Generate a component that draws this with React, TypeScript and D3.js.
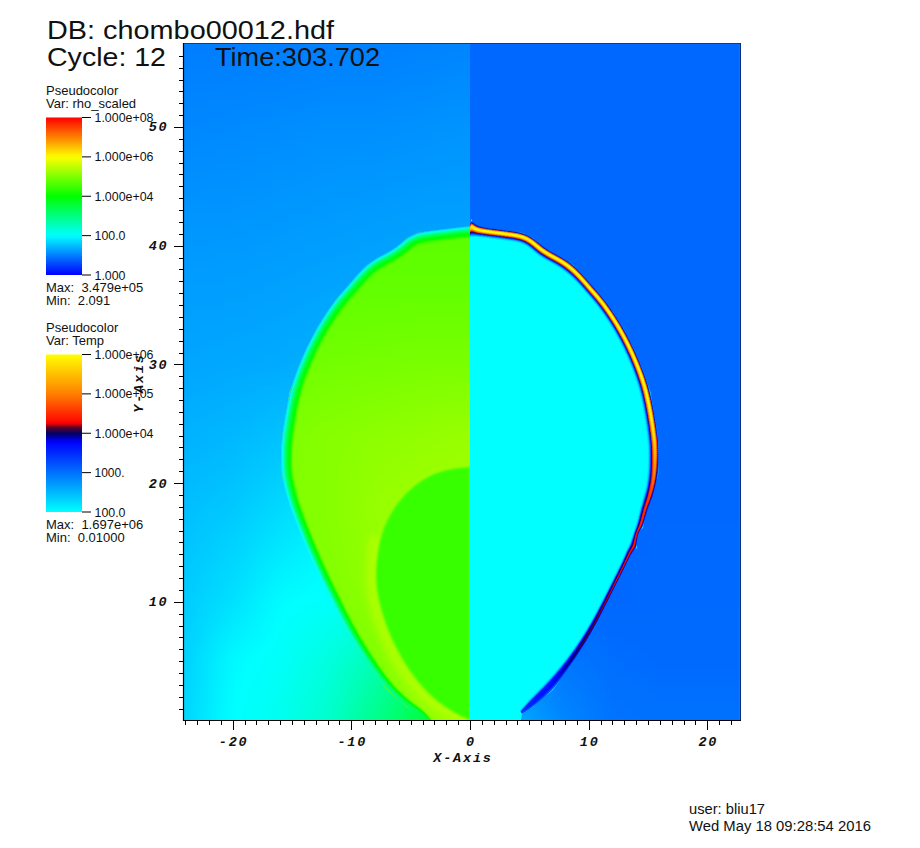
import React from 'react';
import * as d3 from 'd3';

// ---------- text ----------
const dbTitle = 'DB: chombo00012.hdf';
const cycleLabel = 'Cycle: 12';
const timeLabel = 'Time:303.702';
const rhoLegendLines = ['Pseudocolor', 'Var: rho_scaled'];
const rhoTickLabels = ['1.000e+08', '1.000e+06', '1.000e+04', '100.0', '1.000'];
const rhoStats = ['Max:  3.479e+05', 'Min:  2.091'];
const tempLegendLines = ['Pseudocolor', 'Var: Temp'];
const tempTickLabels = ['1.000e+06', '1.000e+05', '1.000e+04', '1000.', '100.0'];
const tempStats = ['Max:  1.697e+06', 'Min:  0.01000'];
const footerLines = ['user: bliu17', 'Wed May 18 09:28:54 2016'];

// ---------- colour tables (log10 value -> colour) ----------
const rhoLogStops = [0, 2, 4, 6, 8];
const rhoColors = ['#0000ff', '#00ffff', '#00ff00', '#ffff00', '#ff0000'];
const tempLogStops = [2, 3.79, 4.0, 4.17, 4.25, 5, 6];
const tempColors = ['#00ffff', '#0000ff', '#000060', '#700020', '#ff0000', '#ff8000', '#ffff00'];

// ---------- ambient gas density, left half (log10 rho) ----------
const gasX = [-24, -20, -16, -12, -8, -4, 0];
const gasY = [57, 50, 40, 30, 20, 15, 10, 5, 0];
const gasLog = [
  [0.98, 0.98, 0.98, 1.0, 1.0, 1.02, 1.04],
  [1.06, 1.08, 1.1, 1.12, 1.12, 1.14, 1.16],
  [1.2, 1.2, 1.22, 1.24, 1.26, 1.28, 1.28],
  [1.3, 1.32, 1.34, 1.38, 1.4, 1.42, 1.42],
  [1.46, 1.52, 1.64, 1.74, 1.75, 1.75, 1.75],
  [1.54, 1.64, 1.8, 1.94, 2.0, 2.0, 2.0],
  [1.6, 1.76, 1.98, 2.03, 2.1, 2.2, 2.3],
  [1.64, 1.96, 2.05, 2.25, 2.6, 3.0, 3.2],
  [1.68, 2.0, 2.12, 2.4, 2.9, 3.5, 3.8],
];

// ---------- ambient temperature, right half (log10 T) ----------
const airX = [0, 4, 8, 12, 16, 20, 24];
const airY = [57, 30, 10, 5, 0];
const airLog = [
  [3.07, 3.07, 3.07, 3.07, 3.07, 3.07, 3.07],
  [3.07, 3.07, 3.07, 3.07, 3.07, 3.07, 3.07],
  [3.06, 3.06, 3.06, 3.06, 3.05, 3.05, 3.05],
  [2.9, 2.92, 2.96, 3.02, 3.04, 3.04, 3.04],
  [2.55, 2.6, 2.85, 2.98, 3.0, 3.0, 3.0],
];

// ---------- density inside the bubble, left half (log10 rho) ----------
const bubbleX = [-16, -12, -8, -4, 0];
const bubbleY = [42, 36, 30, 24, 18, 12, 6, 0];
const bubbleLog = [
  [4.7, 4.7, 4.7, 4.7, 4.7],
  [4.72, 4.75, 4.78, 4.78, 4.78],
  [4.85, 4.9, 4.92, 4.95, 4.95],
  [4.98, 5.05, 5.1, 5.15, 5.2],
  [5.0, 5.05, 5.18, 5.25, 5.25],
  [5.0, 5.02, 5.12, 5.3, 5.3],
  [5.0, 5.0, 5.02, 5.2, 5.25],
  [5.0, 5.0, 5.0, 5.1, 5.25],
];

// ---------- inner low-density lobe ----------
const lobeX = [0, -2.53, -4.55, -6.23, -7.58, -8.0, -7.75, -6.74, -5.05, -2.86, 0];
const lobeY = [21.36, 21.1, 20.0, 18.3, 15.8, 12.43, 10.15, 7.03, 4.0, 1.47, 0];

// ---------- shell: outer edge, inner edge and peak log10 T, matched point by point ----------
const shellX = [0.0, 0.1, 0.42, 1.94, 3.37, 4.47, 5.31, 6.15, 6.99, 7.83, 8.68, 9.52, 10.36, 11.2, 12.05, 12.89, 13.73, 14.49, 15.2, 15.75, 15.92, 15.85, 15.55, 15.33, 14.91, 14.57, 14.07, 14.07, 13.65, 13.23, 12.38, 11.54, 10.53, 9.52, 8.42, 6.99, 5.31, 4.38];
const shellY = [41.3, 42.3, 41.62, 41.41, 41.24, 41.07, 40.65, 39.89, 39.38, 38.96, 38.37, 37.53, 36.52, 35.6, 34.41, 33.07, 31.47, 29.7, 27.67, 24.47, 22.8, 20.7, 19.42, 18.58, 17.73, 16.22, 15.8, 14.53, 14.2, 13.27, 11.58, 9.9, 7.88, 6.19, 4.51, 2.57, 1.14, 0.63];
const shellInnerX = [0, 0.1, 0.42, 1.9, 3.3, 4.35, 5.0, 5.7, 6.5, 7.4, 8.1, 9.0, 9.8, 10.6, 11.4, 12.25, 13.0, 13.75, 14.4, 14.9, 15.05, 15.0, 14.8, 14.6, 14.35, 14.0, 13.8, 13.45, 13.2, 12.83, 11.98, 11.14, 10.1, 9.07, 7.9, 6.4, 4.9, 4.25];
const shellInnerY = [40.75, 40.75, 40.78, 40.6, 40.42, 40.25, 39.85, 39.2, 38.72, 38.25, 37.75, 36.95, 36.0, 35.1, 34.0, 32.65, 31.2, 29.45, 27.45, 24.4, 22.8, 20.7, 19.5, 18.8, 17.95, 16.4, 15.9, 14.8, 14.4, 13.47, 11.78, 10.1, 8.14, 6.5, 4.9, 3.17, 1.7, 0.85];
const shellPeak = [5.6, 5.8, 6, 6, 6, 6, 6, 6, 6, 6, 6, 6, 6, 6, 6, 6, 6, 6, 6, 5.9, 5.5, 5.0, 4.7, 4.6, 4.5, 4.5, 4.4, 4.4, 4.35, 4.3, 4.25, 4.2, 4.15, 4.1, 3.95, 3.75, 3.65, 3.4];

// ---------- bubble edge on the density side ----------
const cavityX = [0, 0.42, 1.94, 3.37, 4.47, 5.31, 6.15, 6.99, 7.83, 8.68, 9.52, 10.36, 11.2, 12.05, 12.89, 13.73, 14.49, 15.2, 15.75, 15.92, 15.85, 15.55, 15.2, 14.6, 13.9, 13.2, 12.38, 11.54, 10.53, 9.52, 8.42, 6.99, 5.31, 4.38, 3.7, 3.1];
const cavityY = [41.62, 41.6, 41.41, 41.24, 41.07, 40.65, 39.89, 39.38, 38.96, 38.37, 37.53, 36.52, 35.6, 34.41, 33.07, 31.47, 29.7, 27.67, 24.47, 22.8, 20.7, 19.42, 18.2, 16.6, 14.9, 13.3, 11.58, 9.9, 7.88, 6.19, 4.51, 2.57, 1.14, 0.63, 0.1, -0.6];
const cavityEdge = [1, 1, 1, 1, 1, 1, 1, 1, 1, 1, 1, 1, 1, 1, 1, 1, 1, 1, 1, 1, 0.95, 0.95, 0.9, 0.9, 0.85, 0.85, 0.8, 0.8, 0.8, 0.75, 0.75, 0.7, 0.6, 0.5, 0.4, 0.3];

// ---------- axis ticks ----------
const xMajorTicks = [-20, -10, 0, 10, 20];
const yMajorTicks = [10, 20, 30, 40, 50];
const xMinorTicks = d3.range(-24, 23);
const yMinorTicks = d3.range(1, 57);

// ---------- scales ----------
const x = d3.scaleLinear().domain([-24.14, 22.75]).range([183.5, 740]);
const y = d3.scaleLinear().domain([0, 57]).range([720.5, 43.9]);
const rhoColor = d3.scaleLinear<string>().domain(rhoLogStops).range(rhoColors).clamp(true);
const tempColor = d3.scaleLinear<string>().domain(tempLogStops).range(tempColors).clamp(true);

function fieldOf(xs: number[], ys: number[], grid: number[][]) {
  const rows = grid.map((r) => d3.scaleLinear().domain(xs).range(r).clamp(true));
  return (px: number, py: number) =>
    d3.scaleLinear().domain(ys).range(rows.map((r) => r(px))).clamp(true)(py);
}
const gasField = fieldOf(gasX, gasY, gasLog);
const airField = fieldOf(airX, airY, airLog);
const bubbleField = fieldOf(bubbleX, bubbleY, bubbleLog);

function cells(x0: number, x1: number, y0: number, y1: number, size: number, field: (a: number, b: number) => number, color: (v: number) => string) {
  const out: { px: number; py: number; fill: string }[] = [];
  for (let px = x0; px < x1; px += size) {
    for (let py = y0; py < y1; py += size) {
      const v = field(x.invert(px + size / 2), y.invert(py + size / 2));
      out.push({ px, py, fill: color(v) });
    }
  }
  return out;
}

// Ribbon between an outer edge and an inner edge, split into small quads
function ribbon(ox: number[], oy: number[], ix: number[], iy: number[], sign: number, colorAt: (u: number, t: number, dx: number, dy: number) => string) {
  const fox = d3.interpolateBasis(ox);
  const foy = d3.interpolateBasis(oy);
  const fix = d3.interpolateBasis(ix);
  const fiy = d3.interpolateBasis(iy);
  const N = 420;
  const M = 18;
  const out: { d: string; fill: string }[] = [];
  const at = (u: number, t: number) => {
    const dx = fox(u) + (fix(u) - fox(u)) * t;
    const dy = foy(u) + (fiy(u) - foy(u)) * t;
    return [dx, dy];
  };
  for (let i = 0; i < N; i++) {
    const u0 = i / N;
    const u1 = (i + 1) / N;
    for (let j = 0; j < M; j++) {
      const t0 = j / M;
      const t1 = (j + 1) / M;
      const c = [at(u0, t0), at(u1, t0), at(u1, t1), at(u0, t1)];
      const d = 'M' + c.map((v) => x(sign * v[0]).toFixed(2) + ',' + y(v[1]).toFixed(2)).join('L') + 'Z';
      const m = at(u0, (t0 + t1) / 2);
      out.push({ d, fill: colorAt(u0, (t0 + t1) / 2, m[0], m[1]) });
    }
  }
  return out;
}

// Inner edge of the density rim, offset from the outline by cavityEdge along the normal
function insetEdge(xs: number[], ys: number[], ws: number[]) {
  const ix: number[] = [];
  const iy: number[] = [];
  xs.forEach((v, i) => {
    const a = Math.max(0, i - 1);
    const b = Math.min(xs.length - 1, i + 1);
    const tx = xs[b] - xs[a];
    const ty = ys[b] - ys[a];
    const l = Math.hypot(tx, ty) || 1;
    ix.push(v + (ty / l) * ws[i]);
    iy.push(ys[i] + (-tx / l) * ws[i]);
  });
  return { ix, iy };
}

const smooth = d3.line<[number, number]>().x((d) => d[0]).y((d) => d[1]).curve(d3.curveBasis);
const polyOf = (xs: number[], ys: number[], sign: number) => xs.map((v, i) => [x(sign * v), y(ys[i])] as [number, number]);

// right half
const rightOutline = [...polyOf(shellX, shellY, 1), [x(4.2), y(-0.6)] as [number, number], [x(0), y(-0.6)] as [number, number], [x(0), y(41.3)] as [number, number]];
const rightCells = cells(464, 744, 38, 728, 8, airField, (v) => tempColor(v));
const fPeak = d3.interpolateBasis(shellPeak);
const shellRibbon = ribbon(shellX, shellY, shellInnerX, shellInnerY, 1, (u, t) => {
  const p = fPeak(u);
  const T = d3.scaleLinear().domain([0, 0.28, 0.44, 0.74, 1]).range([3.07, p, p, Math.min(p, 3.74), 2]).clamp(true)(t);
  return tempColor(T);
});

// left half
const leftCells = cells(176, 476, 38, 728, 8, gasField, (v) => rhoColor(v));
const bubbleCells = cells(272, 476, 220, 728, 8, bubbleField, (v) => rhoColor(v));
const bubbleOutline = [...polyOf(cavityX, cavityY, -1), [x(0), y(-0.6)] as [number, number], [x(0), y(41.62)] as [number, number]];
const inset = insetEdge(cavityX, cavityY, cavityEdge);
const edgeRibbon = ribbon(cavityX, cavityY, inset.ix, inset.iy, -1, (_u, t, dx, dy) => {
  const amb = gasField(-dx, dy);
  const inn = bubbleField(-dx, dy);
  const v = d3.scaleLinear().domain([0, 0.12, 0.35, 0.6, 0.78, 1]).range([amb, 2.1, 3.1, 3.8, 4.1, inn]).clamp(true)(t);
  return rhoColor(Math.max(amb, v));
});
const lobeLine = polyOf(lobeX, lobeY, 1);
const lobeLower = lobeLine.slice(4).map((p, i) => [p[0] - (i === 6 ? 0 : 5), p[1] + 2] as [number, number]);

const legendOffsets = d3.range(0, 1.0001, 0.02);
const sans = '"Liberation Sans", Arial, sans-serif';
const mono = '"Liberation Mono", "DejaVu Sans Mono", monospace';

function Legend({ top, id, lines, labels, stats, color, lo, hi, widths }: { top: number; id: string; lines: string[]; labels: string[]; stats: string[]; color: (v: number) => string; lo: number; hi: number; widths: number[] }) {
  const barTop = top + 22.5;
  const barH = 157.5;
  const pos = d3.scaleLinear().domain([0, labels.length - 1]).range([barTop, barTop + barH]);
  return (
    <g fontFamily={sans} fontSize={13} fill="#111">
      <defs>
        <linearGradient id={id} x1="0" y1="1" x2="0" y2="0">
          {legendOffsets.map((o) => (
            <stop key={o} offset={o} stopColor={color(lo + (hi - lo) * o)} />
          ))}
        </linearGradient>
      </defs>
      <text x={46} y={top}>{lines[0]}</text>
      <text x={46} y={top + 13}>{lines[1]}</text>
      <rect x={46} y={barTop} width={36} height={barH} fill={`url(#${id})`} />
      {labels.map((l, i) => (
        <g key={l}>
          <line x1={82} x2={91} y1={pos(i)} y2={pos(i)} stroke="#000" strokeWidth={1} />
          <text x={94.5} y={pos(i) + 4.5} textLength={widths[i]} lengthAdjust="spacingAndGlyphs">{l}</text>
        </g>
      ))}
      <text x={46} y={barTop + barH + 17} xmlSpace="preserve">{stats[0]}</text>
      <text x={46} y={barTop + barH + 30} xmlSpace="preserve">{stats[1]}</text>
    </g>
  );
}

export default function App() {
  const plot = { x0: x(-24.14), x1: x(22.75), y0: y(57), y1: y(0) };
  const axisText = { fontFamily: mono, fontWeight: 700, fontStyle: 'italic', fontSize: 13.5, letterSpacing: 1.8, fill: '#111' } as const;
  return (
    <svg width={920} height={848} style={{ position: 'absolute', left: 0, top: 0, background: '#fff' }}>
      <defs>
        <clipPath id="leftHalf"><rect x={plot.x0} y={plot.y0} width={x(0) - plot.x0} height={plot.y1 - plot.y0} /></clipPath>
        <clipPath id="rightHalf"><rect x={x(0)} y={plot.y0} width={plot.x1 - x(0)} height={plot.y1 - plot.y0} /></clipPath>
        <clipPath id="bubbleClip"><path d={'M' + bubbleOutline.map((p) => p.join(',')).join('L') + 'Z'} /></clipPath>
        <filter id="b3" filterUnits="userSpaceOnUse" x={-100} y={-100} width={1200} height={1100}><feGaussianBlur stdDeviation={3} /></filter>
        <filter id="b4" filterUnits="userSpaceOnUse" x={-100} y={-100} width={1200} height={1100}><feGaussianBlur stdDeviation={4} /></filter>
        <filter id="b1" filterUnits="userSpaceOnUse" x={-100} y={-100} width={1200} height={1100}><feGaussianBlur stdDeviation={1} /></filter>
        <filter id="b05" filterUnits="userSpaceOnUse" x={-100} y={-100} width={1200} height={1100}><feGaussianBlur stdDeviation={0.5} /></filter>
      </defs>

      {/* left half: density */}
      <g clipPath="url(#leftHalf)">
        <g filter="url(#b3)" shapeRendering="crispEdges">
          {leftCells.map((c, i) => <rect key={i} x={c.px} y={c.py} width={8.5} height={8.5} fill={c.fill} />)}
        </g>
        <g clipPath="url(#bubbleClip)">
          <g filter="url(#b3)" shapeRendering="crispEdges">
            {bubbleCells.map((c, i) => <rect key={i} x={c.px} y={c.py} width={8.5} height={8.5} fill={c.fill} />)}
          </g>
          <path d={smooth(lobeLower) ?? ''} fill="none" stroke={rhoColor(5.42)} strokeWidth={9} filter="url(#b4)" />
          <path d={d3.line().curve(d3.curveBasis)(lobeLine) + 'Z'} fill={rhoColor(4.45)} filter="url(#b1)" />
        </g>
        <g filter="url(#b05)">
          {edgeRibbon.map((q, i) => <path key={i} d={q.d} fill={q.fill} stroke={q.fill} strokeWidth={0.5} />)}
        </g>
      </g>

      {/* right half: temperature */}
      <g clipPath="url(#rightHalf)">
        <g filter="url(#b3)" shapeRendering="crispEdges">
          {rightCells.map((c, i) => <rect key={i} x={c.px} y={c.py} width={8.5} height={8.5} fill={c.fill} />)}
        </g>
        <path d={'M' + rightOutline.map((p) => p.join(',')).join('L') + 'Z'} fill={tempColor(2)} />
        {shellRibbon.map((q, i) => <path key={i} d={q.d} fill={q.fill} stroke={q.fill} strokeWidth={0.4} />)}
      </g>

      {/* frame */}
      <line x1={plot.x0} x2={plot.x1} y1={43.5} y2={43.5} stroke="#003c9c" strokeWidth={1} />
      <line x1={740.5} x2={740.5} y1={43} y2={721} stroke="#00307c" strokeWidth={1} />
      <line x1={183.5} x2={183.5} y1={43} y2={721} stroke="#000" strokeWidth={1.2} />
      <line x1={183} x2={741} y1={720.5} y2={720.5} stroke="#000" strokeWidth={1.2} />

      {/* ticks */}
      <g stroke="#000" strokeWidth={1}>
        {xMinorTicks.map((t) => <line key={t} x1={Math.round(x(t)) + 0.5} x2={Math.round(x(t)) + 0.5} y1={720.5} y2={xMajorTicks.includes(t) ? 730 : 725} />)}
        {yMinorTicks.map((t) => <line key={t} y1={Math.round(y(t)) + 0.5} y2={Math.round(y(t)) + 0.5} x1={183.5} x2={yMajorTicks.includes(t) ? 174 : 179} />)}
      </g>
      <g {...axisText}>
        {xMajorTicks.map((t) => <text key={t} x={x(t) + 1} y={746} textAnchor="middle">{t}</text>)}
        {yMajorTicks.map((t) => <text key={t} x={168.5} y={y(t) + 4.5} textAnchor="end">{t}</text>)}
        <text x={463} y={762} textAnchor="middle">X-Axis</text>
        <text transform="translate(143,383) rotate(-90)" textAnchor="middle">Y-Axis</text>
      </g>

      {/* annotations */}
      <g fontFamily={sans} fontSize={25} fill="#111">
        <text x={47} y={39} textLength={287} lengthAdjust="spacingAndGlyphs">{dbTitle}</text>
        <text x={47} y={66} textLength={119} lengthAdjust="spacingAndGlyphs">{cycleLabel}</text>
        <text x={215} y={66} textLength={165} lengthAdjust="spacingAndGlyphs">{timeLabel}</text>
      </g>
      <Legend top={95} id="rhoBar" lines={rhoLegendLines} labels={rhoTickLabels} stats={rhoStats} color={(v) => rhoColor(v)} lo={0} hi={8} widths={[59, 59, 59, 31, 31]} />
      <Legend top={332} id="tempBar" lines={tempLegendLines} labels={tempTickLabels} stats={tempStats} color={(v) => tempColor(v)} lo={2} hi={6} widths={[59, 59, 59, 30, 31]} />
      <g fontFamily={sans} fontSize={14} fill="#111">
        <text x={689} y={814} textLength={76} lengthAdjust="spacingAndGlyphs">{footerLines[0]}</text>
        <text x={689} y={831} textLength={182} lengthAdjust="spacingAndGlyphs">{footerLines[1]}</text>
      </g>
    </svg>
  );
}
